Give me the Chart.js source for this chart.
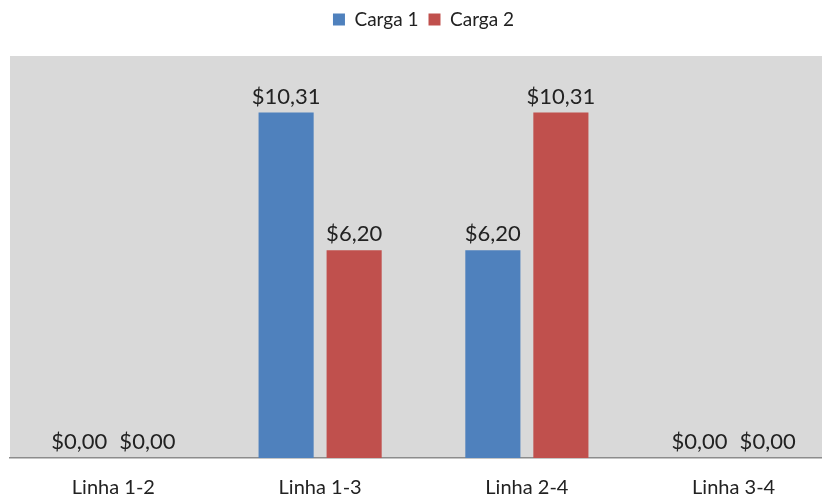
<!DOCTYPE html>
<html>
<head>
<meta charset="utf-8">
<script src="https://cdn.jsdelivr.net/npm/chart.js@4"></script>
<style>
  html, body { margin: 0; padding: 0; background: #fff; overflow: hidden; }
  #wrap { width: 822px; height: 504px; overflow: hidden; }
</style>
</head>
<body>
<div id="wrap"><canvas id="chart" width="840" height="520"></canvas></div>
<script>
const categories = ['Linha 1-2', 'Linha 1-3', 'Linha 2-4', 'Linha 3-4'];
const carga1 = [0, 10.31, 6.20, 0];
const carga2 = [0, 6.20, 10.31, 0];

const FONT = 'Lato, "Open Sans", sans-serif';

// grey plot background
const plotBackground = {
  id: 'plotBackground',
  beforeDraw(chart) {
    const { ctx, chartArea: a } = chart;
    ctx.save();
    ctx.fillStyle = '#D9D9D9';
    ctx.fillRect(a.left, a.top, a.right - a.left, a.bottom - a.top);
    ctx.restore();
  }
};

// extra room under the legend
const legendGap = {
  id: 'legendGap',
  beforeInit(chart) {
    const fit = chart.legend.fit;
    chart.legend.fit = function () {
      fit.bind(chart.legend)();
      this.height += 17;
    };
  }
};

// value labels above each bar
const valueLabels = {
  id: 'valueLabels',
  afterDatasetsDraw(chart) {
    const { ctx } = chart;
    ctx.save();
    ctx.font = '22px ' + FONT;
    ctx.fillStyle = '#222';
    ctx.textAlign = 'center';
    ctx.textBaseline = 'bottom';
    chart.data.datasets.forEach((ds, i) => {
      chart.getDatasetMeta(i).data.forEach((bar, j) => {
        const txt = '$' + ds.data[j].toFixed(2).replace('.', ',');
        ctx.fillText(txt, bar.x, bar.y - 5);
      });
    });
    ctx.restore();
  }
};

new Chart(document.getElementById('chart').getContext('2d'), {
  type: 'bar',
  data: {
    labels: categories,
    datasets: [
      { label: 'Carga 1', data: carga1, backgroundColor: '#4F81BD' },
      { label: 'Carga 2', data: carga2, backgroundColor: '#C0504D' }
    ]
  },
  options: {
    responsive: false,
    animation: false,
    categoryPercentage: 0.658,
    barPercentage: 0.81,
    layout: { padding: { left: 10, right: 3, top: 0, bottom: 2 } },
    scales: {
      x: {
        grid: { display: false, drawTicks: false },
        border: { color: '#8C8C8C', width: 1.5 },
        ticks: { color: '#222', font: { family: FONT, size: 20 }, padding: 18 }
      },
      y: {
        display: false,
        min: 0,
        max: 12
      }
    },
    plugins: {
      legend: {
        position: 'top',
        labels: {
          boxWidth: 12,
          boxHeight: 12,
          color: '#222',
          font: { family: FONT, size: 19 },
          padding: 10
        }
      },
      tooltip: { enabled: false }
    }
  },
  plugins: [plotBackground, legendGap, valueLabels]
});
</script>
</body>
</html>
